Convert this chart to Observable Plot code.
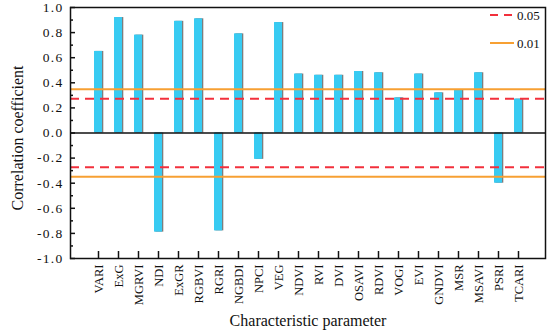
<!DOCTYPE html>
<html>
<head>
<meta charset="utf-8">
<script src="https://cdn.jsdelivr.net/npm/d3@7"></script>
<script src="https://cdn.jsdelivr.net/npm/@observablehq/plot@0.6"></script>
<style>
  html, body { margin: 0; padding: 0; background: #fff; }
  #wrap { position: relative; width: 550px; height: 334px; }
  #legend { position: absolute; left: 0; top: 0; pointer-events: none; }
  g[aria-label="y-axis tick label"] text { letter-spacing: 1.3px; }
</style>
</head>
<body>
<div id="wrap"></div>
<script>
const categories = ["VARI","ExG","MGRVI","NDI","ExGR","RGBVI","RGRI","NGBDI","NPCI","VEG","NDVI","RVI","DVI","OSAVI","RDVI","VOGI","EVI","GNDVI","MSR","MSAVI","PSRI","TCARI"];
const values = [0.65, 0.92, 0.78, -0.79, 0.89, 0.91, -0.78, 0.79, -0.21, 0.88, 0.47, 0.46, 0.46, 0.49, 0.48, 0.28, 0.47, 0.32, 0.34, 0.48, -0.40, 0.27];
const sig05 = 0.273;
const sig01 = 0.348;
const majorTicks = [-1.0, -0.8, -0.6, -0.4, -0.2, 0.0, 0.2, 0.4, 0.6, 0.8, 1.0];
const minorTicks = [-0.9, -0.7, -0.5, -0.3, -0.1, 0.1, 0.3, 0.5, 0.7, 0.9];
const legendLabels = ["0.05", "0.01"];
const yTitle = "Correlation coefficient";
const xTitle = "Characteristic parameter";

const data = categories.map((name, i) => ({name, value: values[i]}));
const fmt = d => (d < 0 ? "-" : "") + Math.abs(d).toFixed(1);
const red = "#F2303C", orange = "#F7A033";

const chart = Plot.plot({
  width: 550,
  height: 334,
  marginTop: 7,
  marginBottom: 76,
  marginLeft: 70,
  marginRight: 5,
  style: {fontFamily: "'Liberation Serif', 'Times New Roman', serif", background: "white", color: "#111"},
  x: {type: "band", domain: categories, paddingInner: 0.61, paddingOuter: 0.805, axis: null},
  y: {domain: [-1, 1], axis: null},
  marks: [
    Plot.barY(data, {x: "name", y: "value", fill: "#7d7d7d", dx: 1.3}),
    Plot.barY(data, {x: "name", y: "value", fill: "#38CBF2"}),
    Plot.ruleY([0], {stroke: "#111", strokeWidth: 1.5}),
    Plot.ruleY([sig05, -sig05], {stroke: red, strokeWidth: 2, strokeDasharray: "9,6"}),
    Plot.ruleY([sig01, -sig01], {stroke: orange, strokeWidth: 2}),
    Plot.axisY({ticks: majorTicks, tickFormat: fmt, tickSize: -5, tickPadding: 12, fontSize: 13.5, label: null, strokeWidth: 1.5}),
    Plot.axisY({ticks: minorTicks, tickFormat: () => "", tickSize: -3, label: null, strokeWidth: 1.5}),
    Plot.axisX({tickSize: -7, tickPadding: 13, tickRotate: -90, fontSize: 12.5, label: null, strokeWidth: 1.5}),
    Plot.frame({stroke: "#111", strokeWidth: 1.5}),
    Plot.text([yTitle], {frameAnchor: "left", textAnchor: "middle", lineAnchor: "middle", dx: -53, dy: 5, rotate: -90, fontSize: 16}),
    Plot.text([xTitle], {frameAnchor: "bottom", textAnchor: "middle", lineAnchor: "middle", dy: 62, fontSize: 16})
  ]
});

const wrap = document.getElementById("wrap");
wrap.appendChild(chart);

// Legend overlay
const leg = d3.select(wrap).append("svg")
  .attr("id", "legend").attr("width", 550).attr("height", 334);
const items = [
  {label: legendLabels[0], color: red, dash: "8,6", y: 15},
  {label: legendLabels[1], color: orange, dash: null, y: 43}
];
items.forEach(it => {
  leg.append("line").attr("x1", 490).attr("x2", 514).attr("y1", it.y).attr("y2", it.y)
    .attr("stroke", it.color).attr("stroke-width", 2).attr("stroke-dasharray", it.dash);
  leg.append("text").attr("x", 517).attr("y", it.y + 4.5)
    .attr("font-family", "'Liberation Serif', serif").attr("font-size", 13).attr("fill", "#111")
    .text(it.label);
});
</script>
</body>
</html>
